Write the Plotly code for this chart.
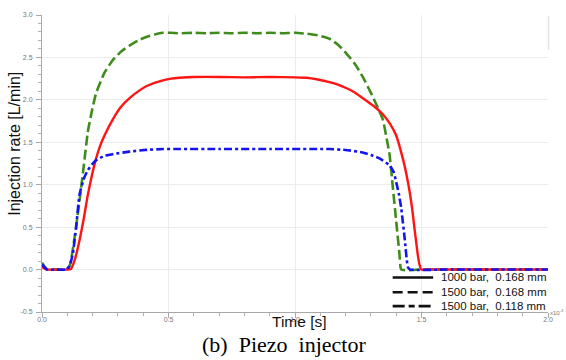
import plotly.graph_objects as go

# Injection rate traces, time in units of 1e-3 s, rate in L/min

# 1000 bar, 0.168 mm
t_1000_168 = [0.0, 0.02, 0.05, 0.10, 0.115, 0.13, 0.148, 0.165, 0.181, 0.198, 0.214, 0.23,
              0.247, 0.28, 0.31, 0.346, 0.38, 0.412, 0.445, 0.478, 0.51, 0.543, 0.6, 0.7,
              0.8, 0.9, 1.0, 1.045, 1.09, 1.136, 1.17, 1.202, 1.235, 1.268, 1.31, 1.347,
              1.375, 1.40, 1.426, 1.44, 1.453, 1.463, 1.472, 1.48, 1.485, 1.492, 1.499,
              1.52, 1.6, 1.8, 2.0]
q_1000_168 = [0.03, 0.0, 0.0, 0.0, 0.01, 0.12, 0.34, 0.60, 0.88, 1.12, 1.31, 1.46,
              1.58, 1.77, 1.91, 2.02, 2.10, 2.16, 2.20, 2.23, 2.25, 2.26, 2.27, 2.27,
              2.265, 2.27, 2.265, 2.26, 2.24, 2.21, 2.18, 2.14, 2.09, 2.02, 1.93, 1.83,
              1.72, 1.58, 1.31, 1.13, 0.92, 0.72, 0.49, 0.30, 0.18, 0.06, 0.0,
              0.0, 0.0, 0.0, 0.0]

# 1500 bar, 0.168 mm
t_1500_168 = [0.0, 0.02, 0.05, 0.096, 0.11, 0.125, 0.148, 0.165, 0.181, 0.198, 0.214, 0.247,
              0.28, 0.313, 0.346, 0.38, 0.412, 0.445, 0.478, 0.51, 0.543, 0.6, 0.65, 0.7,
              0.75, 0.8, 0.85, 0.9, 0.95, 1.0, 1.045, 1.09, 1.136, 1.17, 1.202, 1.235,
              1.268, 1.307, 1.347, 1.36, 1.374, 1.387, 1.40, 1.413, 1.42, 1.5, 1.8, 2.0]
q_1500_168 = [0.08, 0.0, 0.0, 0.0, 0.05, 0.30, 0.80, 1.22, 1.62, 1.88, 2.08, 2.32,
              2.47, 2.57, 2.64, 2.70, 2.74, 2.77, 2.79, 2.79, 2.785, 2.79, 2.785, 2.79,
              2.785, 2.79, 2.785, 2.79, 2.785, 2.79, 2.78, 2.76, 2.72, 2.65, 2.55, 2.43,
              2.27, 2.04, 1.77, 1.58, 1.35, 0.96, 0.57, 0.18, 0.0, 0.0, 0.0, 0.0]

# 1500 bar, 0.118 mm
t_1500_118 = [0.0, 0.02, 0.05, 0.096, 0.11, 0.122, 0.135, 0.148, 0.165, 0.181, 0.198, 0.214,
              0.247, 0.279, 0.345, 0.41, 0.48, 0.543, 0.7, 0.9, 1.1, 1.136, 1.2, 1.267,
              1.3, 1.334, 1.373, 1.39, 1.40, 1.41, 1.42, 1.433, 1.446, 1.455, 1.6, 1.8, 2.0]
q_1500_118 = [0.06, 0.0, 0.0, 0.0, 0.05, 0.19, 0.50, 0.88, 1.07, 1.17, 1.24, 1.29,
              1.34, 1.36, 1.39, 1.41, 1.42, 1.42, 1.42, 1.42, 1.42, 1.42, 1.41, 1.38,
              1.35, 1.31, 1.23, 1.15, 1.03, 0.90, 0.72, 0.38, 0.03, 0.0, 0.0, 0.0, 0.0]

legend_labels = ["1000 bar,\u00a0 0.168 mm", "1500 bar,\u00a0 0.168 mm", "1500 bar,\u00a0 0.118 mm"]
x_ticks = [0.0, 0.5, 1.0, 1.5, 2.0]
y_ticks = [-0.5, 0.0, 0.5, 1.0, 1.5, 2.0, 2.5, 3.0]

GREEN = "#3f8c1c"
RED = "#ff1414"
BLUE = "#1414f0"

fig = go.Figure()
fig.add_trace(go.Scatter(x=t_1500_168, y=q_1500_168, mode="lines",
                         line=dict(color=GREEN, width=2.6, dash="10px,4px",
                                   shape="spline", smoothing=0.4), showlegend=False))
fig.add_trace(go.Scatter(x=t_1000_168, y=q_1000_168, mode="lines",
                         line=dict(color=RED, width=2.4, shape="spline", smoothing=0.4),
                         showlegend=False))
fig.add_trace(go.Scatter(x=t_1500_118, y=q_1500_118, mode="lines",
                         line=dict(color=BLUE, width=2.6, dash="8px,3px,3px,3px",
                                   shape="spline", smoothing=0.4), showlegend=False))

axis_common = dict(
    showline=True, linecolor="#a8a8a8", linewidth=1,
    ticks="outside", ticklen=5, tickcolor="#a8a8a8", tickwidth=1,
    showgrid=True, gridcolor="#ececec", gridwidth=1,
    zeroline=False,
    tickfont=dict(family="Liberation Sans", size=7, color="#777777"),
    minor=dict(dtick=0.1, ticks="outside", ticklen=3, tickcolor="#b0b0b0", showgrid=False),
)

fig.update_xaxes(range=[0, 2.0], tickvals=x_ticks, ticktext=[f"{v:.1f}" for v in x_ticks],
                 ticklabelstandoff=-4, **axis_common)
fig.update_yaxes(range=[-0.5, 3.0], tickvals=y_ticks, ticktext=[f"{v:.1f}" for v in y_ticks],
                 ticklabelstandoff=2, **axis_common)

# Legend key drawn as short black line samples with labels
legend_rows = [0.1163, 0.0664, 0.0199]
legend_dashes = ["solid", "10px,5px", "12px,4px,6px,4px"]
shapes = []
annotations = []
for label, yr, dsh in zip(legend_labels, legend_rows, legend_dashes):
    shapes.append(dict(type="line", xref="paper", yref="paper", x0=0.693, x1=0.773,
                       y0=yr, y1=yr, line=dict(color="#111111", width=2.6, dash=dsh)))
    annotations.append(dict(text=label, xref="paper", yref="paper", x=0.784, y=yr,
                            xanchor="left", yanchor="middle", showarrow=False,
                            font=dict(family="Liberation Sans", size=11.5, color="#111111")))

# faint scrollbar-like strip at the upper right edge
shapes.append(dict(type="rect", xref="paper", yref="paper", x0=0.9995, x1=1.0025,
                   y0=0.883, y1=0.997, fillcolor="#e2e2e2", line=dict(width=0), layer="above"))

annotations += [
    dict(text="Injection rate [L/min]", xref="paper", yref="paper", x=-0.0544, y=0.568,
         xanchor="center", yanchor="middle", textangle=-90, showarrow=False,
         font=dict(family="Liberation Sans", size=16, color="#111111")),
    dict(text="Time [s]", xref="paper", yref="paper", x=0.509, y=-0.0332,
         xanchor="center", yanchor="middle", showarrow=False,
         font=dict(family="Liberation Sans", size=15.5, color="#111111")),
    dict(text="(b)\u00a0 Piezo\u00a0 injector", xref="paper", yref="paper", x=0.478, y=-0.1096,
         xanchor="center", yanchor="middle", showarrow=False,
         font=dict(family="Liberation Serif", size=22, color="#000000")),
    dict(text="x10<sup>-3</sup>", xref="paper", yref="paper", x=1.0, y=0.0,
         xanchor="left", yanchor="middle", showarrow=False,
         font=dict(family="Liberation Sans", size=6, color="#777777")),
]

fig.update_layout(
    width=566, height=360,
    margin=dict(l=42, r=18, t=11, b=48),
    paper_bgcolor="white", plot_bgcolor="white",
    shapes=shapes, annotations=annotations,
    showlegend=False,
)

fig.write_html("out.html")
